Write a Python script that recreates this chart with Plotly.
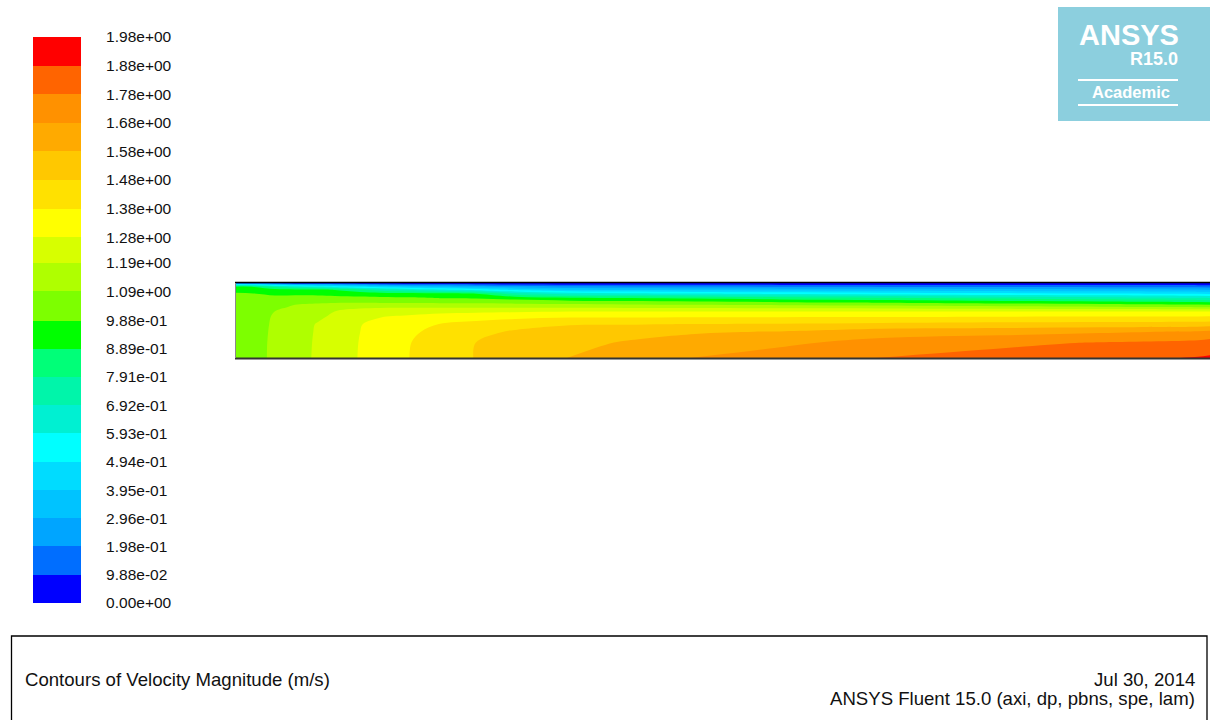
import plotly.graph_objects as go

W, H = 1210, 720

# ---- colour bands (bottom -> top) ----
band_colors = [
    "rgb(0,0,255)", "rgb(0,110,255)", "rgb(0,165,255)", "rgb(0,195,255)",
    "rgb(0,220,255)", "rgb(0,255,255)", "rgb(0,240,210)", "rgb(0,245,170)",
    "rgb(0,255,120)", "rgb(0,255,0)", "rgb(125,255,0)", "rgb(175,255,0)",
    "rgb(215,255,0)", "rgb(255,255,0)", "rgb(255,225,0)", "rgb(255,200,0)",
    "rgb(255,170,0)", "rgb(255,145,0)", "rgb(255,100,0)", "rgb(255,0,0)",
]

# ---- legend tick labels (bottom -> top) ----
level_labels = [
    "0.00e+00", "9.88e-02", "1.98e-01", "2.96e-01", "3.95e-01", "4.94e-01",
    "5.93e-01", "6.92e-01", "7.91e-01", "8.89e-01", "9.88e-01", "1.09e+00",
    "1.19e+00", "1.28e+00", "1.38e+00", "1.48e+00", "1.58e+00", "1.68e+00",
    "1.78e+00", "1.88e+00", "1.98e+00",
]

# ---- field sampling stations ----
axial_pos = [0, 17, 40, 60, 83, 100, 125, 145, 177, 205, 241, 280, 335, 390,
             460, 545, 647, 765, 865, 963, 975]
radial_pos = [0, 0.2, 0.35, 0.45, 0.55, 0.62, 0.68, 0.74, 0.8, 0.86, 0.91,
              0.95, 0.98, 1.0]

# velocity magnitude (m/s) at each axial station, from axis (r=0) to wall (r=1)
vel_x0 = [1.03, 1.03, 1.03, 1.03, 1.03, 1.03, 1.03, 1.025, 1.015, 0.996, 0.951, 0.901, 0.573, 0]
vel_x17 = [1.059, 1.059, 1.058, 1.057, 1.055, 1.052, 1.048, 1.04, 1.025, 0.99, 0.933, 0.889, 0.494, 0]
vel_x40 = [1.102, 1.101, 1.099, 1.097, 1.094, 1.088, 1.063, 1.036, 1.008, 0.972, 0.92, 0.776, 0.40, 0]
vel_x60 = [1.148, 1.147, 1.145, 1.14, 1.13, 1.115, 1.10, 1.073, 1.022, 0.966, 0.911, 0.69, 0.30, 0]
vel_x83 = [1.201, 1.199, 1.196, 1.193, 1.168, 1.138, 1.112, 1.08, 1.023, 0.961, 0.901, 0.626, 0.28, 0]
vel_x100 = [1.237, 1.234, 1.228, 1.22, 1.205, 1.188, 1.135, 1.08, 1.019, 0.951, 0.885, 0.573, 0.26, 0]
vel_x125 = [1.29, 1.288, 1.284, 1.282, 1.239, 1.21, 1.173, 1.079, 1.011, 0.938, 0.81, 0.49, 0.23, 0]
vel_x145 = [1.328, 1.325, 1.315, 1.30, 1.282, 1.231, 1.173, 1.078, 1.006, 0.929, 0.745, 0.45, 0.18, 0]
vel_x177 = [1.388, 1.385, 1.373, 1.336, 1.30, 1.256, 1.169, 1.075, 1.0, 0.917, 0.674, 0.38, 0.15, 0]
vel_x205 = [1.432, 1.425, 1.405, 1.387, 1.325, 1.26, 1.168, 1.072, 0.985, 0.903, 0.626, 0.353, 0.14, 0]
vel_x241 = [1.486, 1.483, 1.451, 1.41, 1.349, 1.264, 1.168, 1.069, 0.98, 0.885, 0.56, 0.31, 0.12, 0]
vel_x280 = [1.527, 1.515, 1.495, 1.44, 1.359, 1.271, 1.167, 1.06, 0.948, 0.731, 0.468, 0.26, 0.10, 0]
vel_x335 = [1.584, 1.545, 1.506, 1.478, 1.371, 1.284, 1.165, 1.043, 0.907, 0.632, 0.397, 0.22, 0.088, 0]
vel_x390 = [1.628, 1.592, 1.536, 1.478, 1.372, 1.283, 1.161, 1.03, 0.893, 0.61, 0.383, 0.213, 0.085, 0]
vel_x460 = [1.683, 1.622, 1.571, 1.485, 1.376, 1.283, 1.155, 1.017, 0.87, 0.588, 0.37, 0.206, 0.08, 0]
vel_x545 = [1.728, 1.66, 1.585, 1.49, 1.377, 1.284, 1.146, 1.001, 0.838, 0.563, 0.356, 0.196, 0.079, 0]
vel_x647 = [1.782, 1.718, 1.63, 1.503, 1.378, 1.284, 1.138, 0.981, 0.808, 0.539, 0.342, 0.19, 0.076, 0]
vel_x765 = [1.819, 1.755, 1.644, 1.516, 1.383, 1.284, 1.116, 0.955, 0.764, 0.515, 0.329, 0.183, 0.073, 0]
vel_x865 = [1.851, 1.786, 1.665, 1.525, 1.386, 1.284, 1.099, 0.934, 0.731, 0.497, 0.318, 0.176, 0.07, 0]
vel_x963 = [1.883, 1.808, 1.688, 1.53, 1.39, 1.284, 1.08, 0.909, 0.699, 0.477, 0.307, 0.17, 0.068, 0]
vel_x975 = [1.89, 1.82, 1.70, 1.535, 1.392, 1.285, 1.075, 0.90, 0.69, 0.47, 0.30, 0.165, 0.066, 0]

profiles = [vel_x0, vel_x17, vel_x40, vel_x60, vel_x83, vel_x100, vel_x125,
            vel_x145, vel_x177, vel_x205, vel_x241, vel_x280, vel_x335,
            vel_x390, vel_x460, vel_x545, vel_x647, vel_x765, vel_x865,
            vel_x963, vel_x975]

z = [list(row) for row in zip(*profiles)]

n_bands = len(band_colors)
levels = [float(t) for t in level_labels]
step = 1.976 / n_bands
cscale = [[k / (n_bands - 1), c] for k, c in enumerate(band_colors)]


def px(x):
    return x / W


def py(y):
    return 1 - y / H


fig = go.Figure()

fig.add_trace(go.Contour(
    x=axial_pos, y=radial_pos, z=z,
    colorscale=cscale, showscale=False,
    contours=dict(start=step, end=(n_bands - 1) * step, size=step,
                  coloring="fill", showlines=False),
    line=dict(width=0, smoothing=1.0),
    hoverinfo="skip", xaxis="x", yaxis="y",
))

fig.add_trace(go.Heatmap(
    x=[0, 1], y=levels, z=[[k] for k in range(n_bands)],
    zmin=0, zmax=n_bands - 1, colorscale=cscale, showscale=False,
    hoverinfo="skip", xaxis="x2", yaxis="y2",
))

font_main = "Liberation Sans, Arial, sans-serif"

fig.update_layout(
    width=W, height=H, autosize=False,
    margin=dict(l=0, r=0, t=0, b=0, pad=0, autoexpand=False),
    paper_bgcolor="white", plot_bgcolor="white",
    showlegend=False,
    xaxis=dict(domain=[px(235), 1.0], range=[0, 975], visible=False,
               anchor="y", fixedrange=True, automargin=False),
    yaxis=dict(domain=[py(358), py(283)], range=[0, 1], visible=False,
               anchor="x", fixedrange=True, automargin=False),
    xaxis2=dict(domain=[px(33), px(81)], range=[0, 1], visible=False,
                anchor="y2", fixedrange=True, automargin=False),
    yaxis2=dict(domain=[py(603), py(37)], range=[0, 1.98], anchor="x2",
                side="right", tickvals=levels, ticktext=level_labels,
                ticks="outside", ticklen=21, tickcolor="rgba(0,0,0,0)",
                showgrid=False, zeroline=False, showline=False,
                tickfont=dict(family=font_main, size=15.5, color="#111111"),
                fixedrange=True, automargin=False),
)

shapes = [
    # domain outline
    dict(type="line", xref="paper", yref="paper", x0=px(235), x1=1.0,
         y0=py(282.5), y1=py(282.5), line=dict(color="black", width=1.5)),
    dict(type="line", xref="paper", yref="paper", x0=px(235), x1=1.0,
         y0=py(358.5), y1=py(358.5), line=dict(color="#333333", width=2)),
    dict(type="line", xref="paper", yref="paper", x0=px(235.5), x1=px(235.5),
         y0=py(283), y1=py(358), line=dict(color="#8a8a8a", width=1)),
    # bottom title box
    dict(type="rect", xref="paper", yref="paper", x0=px(11.5), x1=px(1207),
         y0=py(636), y1=py(730), line=dict(color="black", width=1.3),
         fillcolor="rgba(0,0,0,0)"),
    # logo
    dict(type="rect", xref="paper", yref="paper", x0=px(1058), x1=px(1215),
         y0=py(7), y1=py(121), line=dict(width=0),
         fillcolor="rgb(140,207,222)"),
    dict(type="line", xref="paper", yref="paper", x0=px(1078), x1=px(1178),
         y0=py(80), y1=py(80), line=dict(color="white", width=2)),
    dict(type="line", xref="paper", yref="paper", x0=px(1078), x1=px(1178),
         y0=py(105), y1=py(105), line=dict(color="white", width=2)),
]

annotations = [
    dict(text="Contours of Velocity Magnitude (m/s)", x=px(23), y=py(679),
         xanchor="left", yanchor="middle",
         font=dict(family=font_main, size=18.6, color="#111111")),
    dict(text="Jul 30, 2014", x=px(1197), y=py(679),
         xanchor="right", yanchor="middle",
         font=dict(family=font_main, size=18.6, color="#111111")),
    dict(text="ANSYS Fluent 15.0 (axi, dp, pbns, spe, lam)", x=px(1197),
         y=py(698), xanchor="right", yanchor="middle",
         font=dict(family=font_main, size=18.6, color="#111111")),
    dict(text="<b>ANSYS</b>", x=px(1129), y=py(35), xanchor="center",
         yanchor="middle", font=dict(family=font_main, size=29, color="white")),
    dict(text="<b>R15.0</b>", x=px(1180), y=py(59), xanchor="right",
         yanchor="middle", font=dict(family=font_main, size=18, color="white")),
    dict(text="<b>Academic</b>", x=px(1131), y=py(92), xanchor="center",
         yanchor="middle", font=dict(family=font_main, size=16.5, color="white")),
]
for a in annotations:
    a.update(xref="paper", yref="paper", showarrow=False)

fig.update_layout(shapes=shapes, annotations=annotations)

fig.write_html(
    "out.html",
    config={"displayModeBar": False, "responsive": False},
    post_script="document.body.style.margin='0';"
                "document.body.style.overflow='hidden';",
)
